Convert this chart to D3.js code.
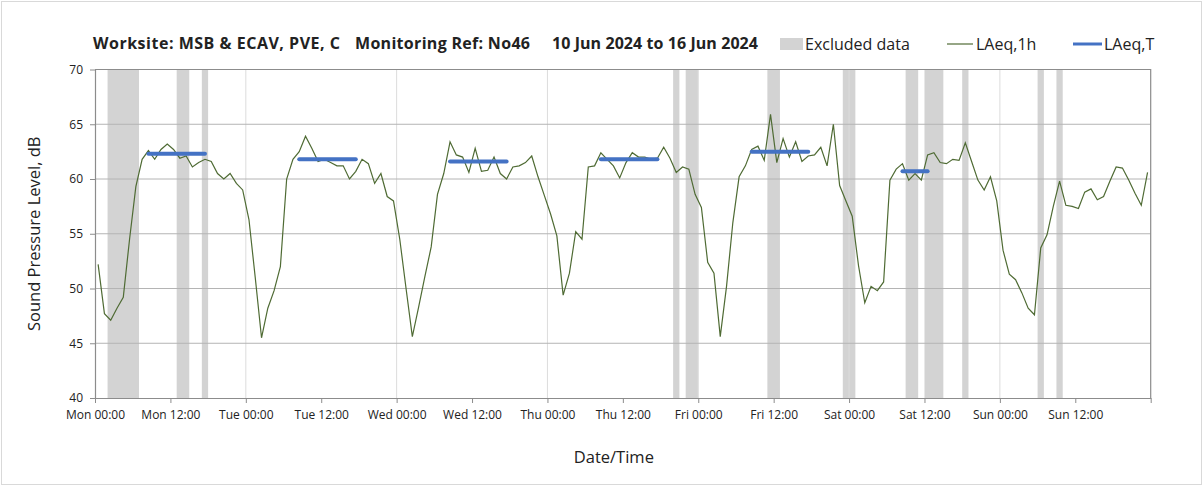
<!DOCTYPE html>
<html>
<head>
<meta charset="utf-8">
<script src="https://cdn.jsdelivr.net/npm/d3@7"></script>
<style>
  body { margin: 0; background: #fff; }
  svg text { font-family: "Open Sans", "Noto Sans", sans-serif; fill: #222; }
</style>
</head>
<body>
<svg id="svg1" width="1203" height="486"></svg>
<script>
// hourly LAeq,1h, Mon 00:00 .. Sun 23:00
var laeq1h = [
  52.2, 47.7, 47.1, 48.2, 49.2, 54.5, 59.3, 61.8, 62.6, 61.8, 62.7, 63.2,
  62.7, 61.9, 62.1, 61.1, 61.5, 61.8, 61.6, 60.5, 60.0, 60.5, 59.6, 59.0,
  56.3, 51.0, 45.5, 48.2, 49.8, 52.0, 60.0, 61.8, 62.5, 63.9, 62.8, 61.6,
  61.8, 61.5, 61.2, 61.2, 60.0, 60.7, 61.8, 61.4, 59.6, 60.5, 58.4, 58.0,
  54.5, 50.0, 45.6, 48.3, 51.1, 53.8, 58.6, 60.5, 63.4, 62.2, 62.0, 60.6,
  62.8, 60.7, 60.8, 62.0, 60.5, 60.0, 61.1, 61.2, 61.5, 62.1, 60.2, 58.5,
  56.8, 54.8, 49.4, 51.4, 55.2, 54.5, 61.1, 61.2, 62.4, 61.8, 61.2, 60.1,
  61.5, 62.4, 62.0, 62.0, 61.8, 61.9, 62.9, 61.9, 60.6, 61.1, 60.9, 58.6,
  57.4, 52.4, 51.4, 45.6, 50.2, 56.0, 60.2, 61.2, 62.7, 63.0, 61.7, 65.9,
  61.5, 63.7, 62.0, 63.4, 61.6, 62.1, 62.2, 62.9, 61.2, 65.0, 59.4, 58.0,
  56.6, 52.1, 48.7, 50.2, 49.8, 50.6, 59.9, 60.9, 61.4, 59.9, 60.5, 59.9,
  62.2, 62.4, 61.5, 61.4, 61.8, 61.7, 63.3, 61.6, 59.9, 59.0, 60.2, 58.0,
  53.5, 51.3, 50.8, 49.6, 48.2, 47.6, 53.7, 54.9, 57.5, 59.8, 57.6, 57.5,
  57.3, 58.8, 59.1, 58.1, 58.4, 59.8, 61.1, 61.0, 59.9, 58.7, 57.6, 60.6
];

// LAeq,T periods (hours from Mon 00:00)
var periodStart = [8, 32, 56, 80, 104, 128];
var periodEnd   = [18, 42, 66, 90, 114, 133];
var periodLevel = [62.3, 61.8, 61.6, 61.8, 62.5, 60.7];

// excluded data (hours from Mon 00:00)
var excludedStart = [2, 13, 17, 92, 94, 107, 119, 129, 132, 138, 150, 153];
var excludedEnd   = [7, 15, 18, 93, 96, 109, 121, 131, 135, 139, 151, 154];

var tickLabels = ["Mon 00:00", "Mon 12:00", "Tue 00:00", "Tue 12:00", "Wed 00:00", "Wed 12:00",
  "Thu 00:00", "Thu 12:00", "Fri 00:00", "Fri 12:00", "Sat 00:00", "Sat 12:00", "Sun 00:00", "Sun 12:00", ""];
var yTicks = [40, 45, 50, 55, 60, 65, 70];

var svg = d3.select("#svg1"),
    margin = {top: 69.5, right: 52.3, bottom: 88, left: 95},
    width = +svg.attr("width") - margin.left - margin.right,
    height = +svg.attr("height") - margin.top - margin.bottom;

// outer frame
svg.append("rect")
  .attr("x", 1.5).attr("y", 1.5)
  .attr("width", 1200).attr("height", 483)
  .attr("fill", "none").attr("stroke", "#d9d9d9");

var g = svg.append("g").attr("transform", "translate(" + margin.left + "," + margin.top + ")");

var x = d3.scaleLinear().domain([0, 168]).range([0, width]);
var y = d3.scaleLinear().domain([40, 70]).range([height, 0]);

// excluded bands
g.selectAll(".excl")
  .data(excludedStart)
  .enter().append("rect")
    .attr("class", "excl")
    .attr("x", function(d) { return x(d); })
    .attr("width", function(d, i) { return x(excludedEnd[i]) - x(d); })
    .attr("y", 0)
    .attr("height", height)
    .attr("fill", "#d3d3d3");

// day gridlines
g.selectAll(".vgrid")
  .data([24, 48, 72, 96, 120, 144])
  .enter().append("line")
    .attr("x1", function(d) { return x(d); })
    .attr("x2", function(d) { return x(d); })
    .attr("y1", 0).attr("y2", height)
    .attr("stroke", "#dcdcdc").attr("stroke-width", 1);

// horizontal gridlines
g.selectAll(".hgrid")
  .data([45, 50, 55, 60, 65])
  .enter().append("line")
    .attr("x1", 0).attr("x2", width)
    .attr("y1", function(d) { return y(d); })
    .attr("y2", function(d) { return y(d); })
    .attr("stroke", "#b4b4b4").attr("stroke-width", 1);

// top and right border
g.append("path")
  .attr("d", "M0,0H" + width + "V" + height)
  .attr("fill", "none").attr("stroke", "#8c8c8c").attr("stroke-width", 1.2);

// axes
var xAxis = g.append("g")
  .attr("transform", "translate(0," + height + ")")
  .call(d3.axisBottom(x)
    .tickValues(d3.range(0, 169, 12))
    .tickSizeInner(5).tickSizeOuter(0).tickPadding(7)
    .tickFormat(function(d, i) { return tickLabels[i]; }));

var yAxis = g.append("g")
  .call(d3.axisLeft(y)
    .tickValues(yTicks)
    .tickSizeInner(5).tickSizeOuter(0).tickPadding(7));

[xAxis, yAxis].forEach(function(a) {
  a.select(".domain").attr("stroke", "#8c8c8c").attr("stroke-width", 1.2);
  a.selectAll(".tick line").attr("stroke", "#8c8c8c");
  a.selectAll(".tick text").attr("font-size", "12px").attr("fill", "#222");
});

// LAeq,1h line
var line = d3.line()
  .x(function(d, i) { return x(i + 0.5); })
  .y(function(d) { return y(d); });

g.append("path")
  .datum(laeq1h)
  .attr("d", line)
  .attr("fill", "none")
  .attr("stroke", "#4f6b34")
  .attr("stroke-width", 1.2);

// LAeq,T segments
g.selectAll(".laeqT")
  .data(periodLevel)
  .enter().append("line")
    .attr("class", "laeqT")
    .attr("x1", function(d, i) { return x(periodStart[i] + 0.5); })
    .attr("x2", function(d, i) { return x(periodEnd[i] - 0.5); })
    .attr("y1", function(d) { return y(d); })
    .attr("y2", function(d) { return y(d); })
    .attr("stroke", "#4472c4")
    .attr("stroke-width", 4)
    .attr("stroke-linecap", "round");

// title
var title = svg.append("g").attr("font-weight", "bold").attr("font-size", "16px");
title.append("text").attr("x", 93).attr("y", 49).attr("textLength", 247).text("Worksite: MSB & ECAV, PVE, C");
title.append("text").attr("x", 355).attr("y", 49).attr("textLength", 175).text("Monitoring Ref: No46");
title.append("text").attr("x", 552).attr("y", 49).attr("textLength", 206).text("10 Jun 2024 to 16 Jun 2024");

// legend
var legend = svg.append("g").attr("font-size", "16px");
legend.append("rect").attr("x", 780).attr("y", 38).attr("width", 23).attr("height", 12).attr("fill", "#d3d3d3");
legend.append("text").attr("x", 805).attr("y", 50).text("Excluded data");
legend.append("line").attr("x1", 947).attr("x2", 973).attr("y1", 44).attr("y2", 44)
  .attr("stroke", "#4f6b34").attr("stroke-width", 1.2);
legend.append("text").attr("x", 976).attr("y", 50).text("LAeq,1h");
legend.append("line").attr("x1", 1073).attr("x2", 1102).attr("y1", 44).attr("y2", 44)
  .attr("stroke", "#4472c4").attr("stroke-width", 3);
legend.append("text").attr("x", 1104).attr("y", 50).text("LAeq,T");

// axis labels
svg.append("text")
  .attr("transform", "translate(40," + (margin.top + height / 2) + ") rotate(-90)")
  .attr("text-anchor", "middle")
  .attr("font-size", "16.5px")
  .text("Sound Pressure Level, dB");

svg.append("text")
  .attr("x", margin.left + width / 2 - 9)
  .attr("y", 463)
  .attr("text-anchor", "middle")
  .attr("font-size", "16.5px")
  .text("Date/Time");
</script>
</body>
</html>
